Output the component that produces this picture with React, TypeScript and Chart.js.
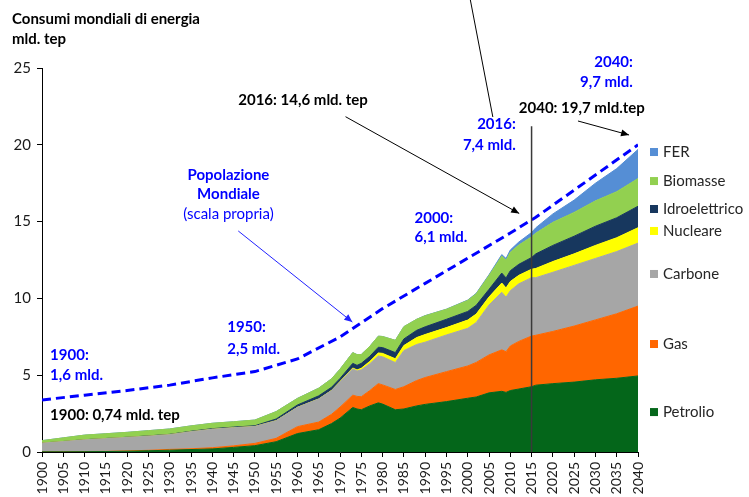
import React, { useEffect, useRef } from 'react';
import { Chart, registerables } from 'chart.js';

Chart.register(...registerables);

// ---- DATA (mld. tep) ----
const years = [1900, 1905, 1910, 1915, 1920, 1925, 1930, 1935, 1940, 1945, 1950, 1955, 1960, 1965, 1968, 1970, 1973, 1974, 1975, 1977, 1979, 1980, 1983, 1985, 1988, 1990, 1995, 2000, 2002, 2005, 2008, 2009, 2010, 2012, 2015, 2016, 2020, 2025, 2030, 2035, 2040];
const petrolio = [0.01, 0.01, 0.02, 0.03, 0.05, 0.08, 0.12, 0.16, 0.2, 0.3, 0.41, 0.67, 1.2, 1.45, 1.85, 2.2, 2.9, 2.8, 2.75, 3.0, 3.2, 3.12, 2.75, 2.8, 3.0, 3.1, 3.28, 3.5, 3.58, 3.85, 3.95, 3.88, 4.0, 4.1, 4.25, 4.35, 4.45, 4.55, 4.7, 4.8, 4.95];
const gas = [0.005, 0.01, 0.01, 0.01, 0.02, 0.03, 0.05, 0.05, 0.08, 0.1, 0.15, 0.22, 0.45, 0.5, 0.6, 0.72, 0.8, 0.82, 0.85, 1.0, 1.25, 1.25, 1.32, 1.45, 1.65, 1.75, 1.95, 2.1, 2.25, 2.47, 2.7, 2.65, 2.9, 3.1, 3.3, 3.25, 3.4, 3.65, 3.9, 4.2, 4.55];
const carbone = [0.56, 0.66, 0.76, 0.83, 0.88, 0.92, 0.96, 1.11, 1.2, 1.18, 1.1, 1.15, 1.26, 1.5, 1.55, 1.65, 1.72, 1.65, 1.75, 1.75, 1.8, 1.83, 1.75, 2.35, 2.35, 2.3, 2.39, 2.45, 2.6, 3.25, 3.75, 3.55, 3.6, 3.75, 3.8, 3.75, 3.85, 3.95, 4.0, 4.05, 4.1];
const nucleare = [0, 0, 0, 0, 0, 0, 0, 0, 0, 0, 0, 0, 0, 0.005, 0.01, 0.02, 0.05, 0.07, 0.1, 0.15, 0.2, 0.22, 0.25, 0.33, 0.45, 0.5, 0.48, 0.54, 0.55, 0.52, 0.6, 0.6, 0.6, 0.55, 0.55, 0.6, 0.7, 0.75, 0.85, 0.9, 1.0];
const idroelettrico = [0.005, 0.005, 0.01, 0.01, 0.01, 0.02, 0.02, 0.03, 0.04, 0.04, 0.05, 0.11, 0.15, 0.2, 0.2, 0.2, 0.3, 0.3, 0.32, 0.33, 0.37, 0.38, 0.4, 0.43, 0.47, 0.5, 0.54, 0.56, 0.57, 0.5, 0.65, 0.65, 0.7, 0.72, 0.76, 0.95, 1.05, 1.15, 1.25, 1.3, 1.4];
const biomasse = [0.16, 0.235, 0.3, 0.31, 0.32, 0.34, 0.35, 0.35, 0.35, 0.35, 0.37, 0.48, 0.43, 0.5, 0.55, 0.6, 0.7, 0.7, 0.58, 0.65, 0.72, 0.72, 0.8, 0.8, 0.72, 0.72, 0.65, 0.72, 0.75, 0.9, 1.1, 1.15, 1.2, 1.25, 1.35, 1.35, 1.5, 1.55, 1.65, 1.7, 1.8];
const fer = [0, 0, 0, 0, 0, 0, 0, 0, 0, 0, 0, 0, 0, 0, 0, 0, 0, 0, 0, 0, 0, 0, 0, 0, 0, 0.01, 0.01, 0.02, 0.03, 0.05, 0.1, 0.12, 0.15, 0.2, 0.28, 0.35, 0.55, 0.8, 1.15, 1.5, 1.9];

// Population (mld.), own scale
const popYears = [1900, 1910, 1920, 1930, 1940, 1950, 1960, 1970, 1980, 1990, 2000, 2010, 2016, 2040];
const popolazione = [1.6, 1.75, 1.9, 2.07, 2.3, 2.5, 2.9, 3.6, 4.5, 5.3, 6.1, 6.9, 7.4, 9.7];

const seriesNames = ['Petrolio', 'Gas', 'Carbone', 'Nucleare', 'Idroelettrico', 'Biomasse', 'FER'];
const seriesValues = [petrolio, gas, carbone, nucleare, idroelettrico, biomasse, fer];
const seriesColors = ['#04661A', '#FF6600', '#A6A6A6', '#FFFF00', '#17375E', '#92D050', '#558ED5'];
// legend label positions (value on energy axis)
const legendAt = [2.6, 7.03, 11.59, 14.39, 15.82, 17.64, 19.53];

const BLUE = '#0000FF';

type Txt = { t: string; x: number; y: number; c: string; b: boolean; a: CanvasTextAlign };
const texts: Txt[] = [
  { t: '2016: 14,6 mld. tep', x: 1946.1, y: 22.92, c: '#000', b: true, a: 'left' },
  { t: '2040: 19,7 mld.tep', x: 2012.0, y: 22.4, c: '#000', b: true, a: 'left' },
  { t: '2040:', x: 2038.8, y: 25.39, c: BLUE, b: true, a: 'right' },
  { t: '9,7 mld.', x: 2038.8, y: 24.09, c: BLUE, b: true, a: 'right' },
  { t: '2016:', x: 2011.3, y: 21.35, c: BLUE, b: true, a: 'right' },
  { t: '7,4 mld.', x: 2011.3, y: 19.99, c: BLUE, b: true, a: 'right' },
  { t: '2000:', x: 1987.5, y: 15.23, c: BLUE, b: true, a: 'left' },
  { t: '6,1 mld.', x: 1987.5, y: 14.0, c: BLUE, b: true, a: 'left' },
  { t: 'Popolazione', x: 1943.8, y: 18.03, c: BLUE, b: true, a: 'center' },
  { t: 'Mondiale', x: 1943.8, y: 16.8, c: BLUE, b: true, a: 'center' },
  { t: '(scala propria)', x: 1943.8, y: 15.49, c: BLUE, b: false, a: 'center' },
  { t: '1950:', x: 1943.5, y: 8.14, c: BLUE, b: true, a: 'left' },
  { t: '2,5 mld.', x: 1943.5, y: 6.71, c: BLUE, b: true, a: 'left' },
  { t: '1900:', x: 1901.9, y: 6.32, c: BLUE, b: true, a: 'left' },
  { t: '1,6 mld.', x: 1901.9, y: 5.01, c: BLUE, b: true, a: 'left' },
  { t: '1900: 0,74 mld. tep', x: 1901.9, y: 2.41, c: '#000', b: true, a: 'left' },
];

type Arr = { x1: number; y1: number; x2: number; y2: number; c: string; head: boolean };
const arrows: Arr[] = [
  { x1: 1971.3, y1: 21.83, x2: 2012.1, y2: 15.53, c: '#000', head: true },
  { x1: 2025.9, y1: 21.55, x2: 2037.9, y2: 20.64, c: '#000', head: true },
  { x1: 2000.5, y1: 29.6, x2: 2005.9, y2: 21.81, c: '#000', head: false },
  { x1: 1946.1, y1: 14.39, x2: 1972.9, y2: 8.46, c: '#2222FF', head: true },
];

const markerYear = 2015;
const markerTop = 21.2;

const annotPlugin = {
  id: 'annot',
  afterDraw(chart: any) {
    const ctx: CanvasRenderingContext2D = chart.ctx;
    const xs = chart.scales.x;
    const ys = chart.scales.y;
    const px = (v: number) => xs.getPixelForValue(v);
    const py = (v: number) => ys.getPixelForValue(v);
    const area = chart.chartArea;
    ctx.save();

    // vertical separator line
    ctx.strokeStyle = '#3a3a3a';
    ctx.lineWidth = 1.5;
    ctx.beginPath();
    ctx.moveTo(px(markerYear), py(0));
    ctx.lineTo(px(markerYear), py(markerTop));
    ctx.stroke();

    // title
    ctx.fillStyle = '#000';
    ctx.font = 'bold 15px Lato';
    ctx.textAlign = 'left';
    ctx.textBaseline = 'middle';
    ctx.fillText('Consumi mondiali di energia', 12, 19);
    ctx.fillText('mld. tep', 12, 39);

    // texts
    for (const t of texts) {
      ctx.font = (t.b ? 'bold ' : '') + '15px Lato';
      ctx.fillStyle = t.c;
      ctx.textAlign = t.a;
      ctx.fillText(t.t, px(t.x), py(t.y));
    }

    // arrows
    for (const a of arrows) {
      const x1 = px(a.x1), y1 = py(a.y1), x2 = px(a.x2), y2 = py(a.y2);
      ctx.strokeStyle = a.c;
      ctx.fillStyle = a.c;
      ctx.lineWidth = 1;
      ctx.beginPath();
      ctx.moveTo(x1, y1);
      ctx.lineTo(x2, y2);
      ctx.stroke();
      if (a.head) {
        const ang = Math.atan2(y2 - y1, x2 - x1);
        const L = 8, W = 3.5;
        ctx.beginPath();
        ctx.moveTo(x2, y2);
        ctx.lineTo(x2 - L * Math.cos(ang) + W * Math.sin(ang), y2 - L * Math.sin(ang) - W * Math.cos(ang));
        ctx.lineTo(x2 - L * Math.cos(ang) - W * Math.sin(ang), y2 - L * Math.sin(ang) + W * Math.cos(ang));
        ctx.closePath();
        ctx.fill();
      }
    }

    // legend
    ctx.font = '15px Lato';
    ctx.textAlign = 'left';
    ctx.textBaseline = 'middle';
    for (let i = 0; i < seriesNames.length; i++) {
      const yy = py(legendAt[i]);
      ctx.fillStyle = seriesColors[i];
      ctx.fillRect(area.right + 12, yy - 4, 8, 8);
      ctx.fillStyle = '#262626';
      ctx.fillText(seriesNames[i], area.right + 25, yy);
    }
    ctx.restore();
  },
};

export default function App() {
  const ref = useRef<HTMLCanvasElement | null>(null);

  useEffect(() => {
    if (!ref.current) return;
    Chart.defaults.font.family = 'Lato';
    const datasets: any[] = seriesNames.map((name, i) => ({
      label: name,
      data: years.map((yr, j) => ({ x: yr, y: seriesValues[i][j] })),
      backgroundColor: seriesColors[i],
      borderColor: seriesColors[i],
      borderWidth: 1,
      pointRadius: 0,
      fill: i === 0 ? 'origin' : '-1',
      yAxisID: 'y',
      tension: 0,
      order: 1,
    }));
    datasets.push({
      label: 'Popolazione',
      data: popYears.map((yr, j) => ({ x: yr, y: popolazione[j] })),
      borderColor: BLUE,
      borderWidth: 3,
      borderDash: [9, 5],
      pointRadius: 0,
      fill: false,
      yAxisID: 'yPop',
      tension: 0,
      order: -1,
    });

    const chart = new Chart(ref.current, {
      type: 'line',
      data: { datasets },
      options: {
        animation: false,
        responsive: true,
        maintainAspectRatio: false,
        devicePixelRatio: 1,
        layout: { padding: { top: 68, right: 111, bottom: 0, left: 0 } },
        plugins: { legend: { display: false }, tooltip: { enabled: false } },
        events: [],
        scales: {
          x: {
            type: 'linear',
            min: 1900,
            max: 2040,
            afterFit: (s: any) => { s.height = 45; },
            ticks: {
              stepSize: 5,
              autoSkip: false,
              maxRotation: 90,
              minRotation: 90,
              padding: 5,
              color: '#1a1a1a',
              font: { size: 14, family: 'Lato' },
              callback: (v: any) => String(v),
            },
            grid: { display: true, drawOnChartArea: false, drawTicks: true, tickLength: 5, color: '#000' },
            border: { display: true, color: '#000', width: 1 },
          },
          y: {
            stacked: true,
            min: 0,
            max: 25,
            afterFit: (s: any) => { s.width = 42; },
            ticks: { stepSize: 5, padding: 6, color: '#1a1a1a', font: { size: 15, family: 'Lato' } },
            grid: { display: true, drawOnChartArea: false, drawTicks: true, tickLength: 5, color: '#000' },
            border: { display: true, color: '#000', width: 1 },
          },
          yPop: {
            display: false,
            min: -0.054,
            max: 12.14,
          },
        },
      },
      plugins: [annotPlugin],
    });
    if ((document as any).fonts && (document as any).fonts.ready) {
      (document as any).fonts.ready.then(() => { try { chart.update(); } catch (e) {} });
    }
    return () => chart.destroy();
  }, []);

  return (
    <div style={{ position: 'fixed', left: 0, top: 0, width: 749, height: 497, background: '#fff' }}>
      <canvas ref={ref} />
    </div>
  );
}
